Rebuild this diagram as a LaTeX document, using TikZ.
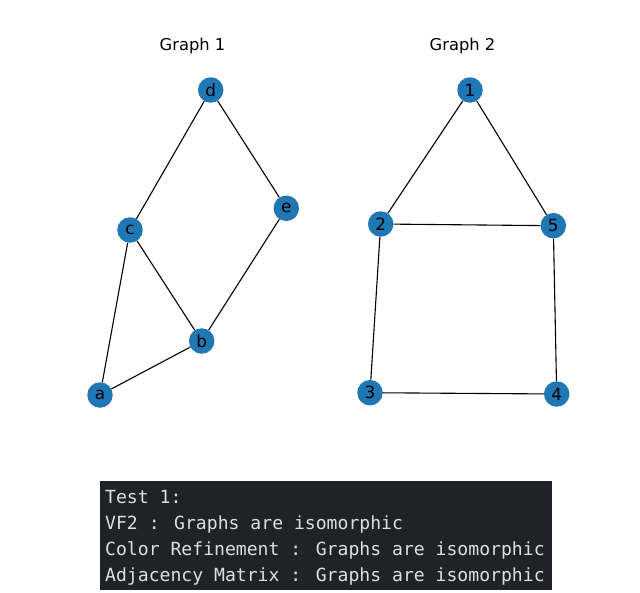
\documentclass[tikz,border=0pt]{standalone}
\usepackage{fontspec}
\setmainfont{DejaVu Sans}
\newfontfamily\termfont{DejaVu Sans Mono}
\definecolor{nodeblue}{HTML}{1F77B4}
\definecolor{termbg}{RGB}{31,35,40}
\definecolor{termfg}{RGB}{220,223,226}
\begin{document}
\begin{tikzpicture}[x=1pt,y=-1pt,
  vtx/.style={circle,fill=nodeblue,minimum size=25.5pt,inner sep=0pt,font=\fontsize{16.8}{18}\selectfont},
  edge/.style={draw=black,line width=1.1pt},
  title/.style={anchor=base,font=\fontsize{16.3}{18}\selectfont},
  termline/.style={anchor=base west,inner sep=0pt,text=termfg,font=\termfont\fontsize{18.1}{26}\selectfont}]
\useasboundingbox (0,0) rectangle (640,592);
\fill[white] (0,0) rectangle (640,592);
% titles
\node[title] (t1) at (192.5,50) {Graph 1};
\node[title] (t2) at (462.5,50) {Graph 2};
% graph 1
\node[vtx] (d) at (210.7,90) {d};
\node[vtx] (e) at (286.3,208.3) {e};
\node[vtx] (c) at (130,230) {c};
\node[vtx] (b) at (201.7,341) {b};
\node[vtx] (a) at (100,395) {a};
% graph 2
\node[vtx] (n1) at (470,90) {1};
\node[vtx] (n2) at (380.7,224) {2};
\node[vtx] (n5) at (553.3,225.7) {5};
\node[vtx] (n3) at (370,392.7) {3};
\node[vtx] (n4) at (556.7,394) {4};
% edges
\draw[edge] (d) -- (c);
\draw[edge] (d) -- (e);
\draw[edge] (c) -- (b);
\draw[edge] (c) -- (a);
\draw[edge] (e) -- (b);
\draw[edge] (a) -- (b);
\draw[edge] (n1) -- (n2);
\draw[edge] (n1) -- (n5);
\draw[edge] (n2) -- (n5);
\draw[edge] (n2) -- (n3);
\draw[edge] (n5) -- (n4);
\draw[edge] (n3) -- (n4);
% terminal box
\fill[termbg] (100,481) rectangle (551.5,590);
\node[termline] (l1) at (105,503) {Test 1:};
\node[termline] (l2) at (105,529) {VF2 : Graphs are isomorphic};
\node[termline] (l3) at (105,555) {Color Refinement : Graphs are isomorphic};
\node[termline] (l4) at (105,581) {Adjacency Matrix : Graphs are isomorphic};
\end{tikzpicture}
\end{document}
